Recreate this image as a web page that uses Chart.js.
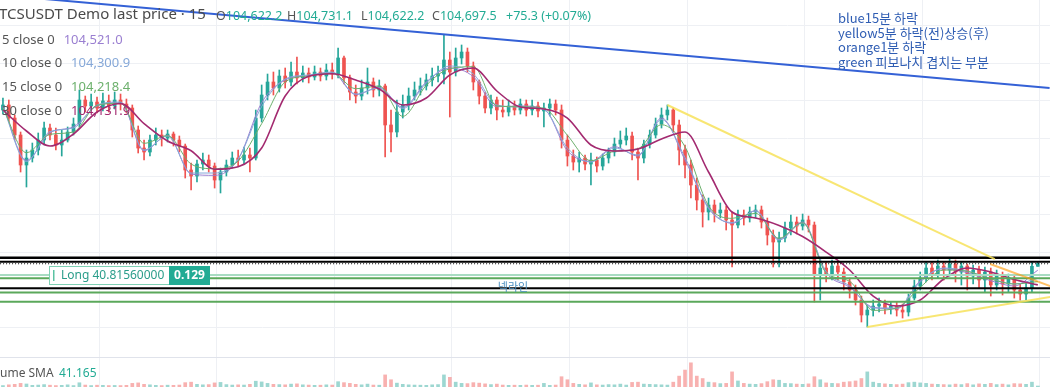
<!DOCTYPE html>
<html>
<head>
<meta charset="utf-8">
<script src="https://cdn.jsdelivr.net/npm/chart.js@4.4.1/dist/chart.umd.min.js"></script>
<style>
  html, body { margin: 0; padding: 0; background: #fff; overflow: hidden; }
  canvas { display: block; }
</style>
</head>
<body>
<canvas id="chart" width="1050" height="387"></canvas>
<script>
// ---- data (15m candles, resampled) ----
const opens = [
  108757,108890,108545,108096,107302,107487,107699,107963,108281,108096,
  107831,107963,108175,108387,109022,108863,108969,108810,108996,108863,
  109022,108916,108810,108228,107751,107646,107963,108096,108016,108122,
  107963,107804,107170,107011,107328,107434,107275,106905,107117,107302,
  107487,107434,107567,107487,108545,109154,109498,109339,109656,109498,
  109762,109604,109736,109630,109762,109656,109815,109709,110133,109604,
  109233,109127,109339,109498,109286,109392,108361,108175,108704,108890,
  109127,109286,109392,109551,109656,109709,110080,109762,110133,110291,
  109921,109498,109127,108810,109022,108757,108704,108863,108757,108916,
  108757,108863,108731,108810,108916,108757,107963,107540,107381,107487,
  107328,107434,107275,107487,107646,107857,107963,108069,107646,107487,
  107857,108096,108387,108625,108757,108361,107699,107302,106773,106376,
  106059,106244,106033,106112,105847,105715,105980,105900,106059,106112,
  105794,105451,105265,105371,105635,105794,105688,105847,105715,104392,
  104577,104392,104630,104471,104207,103995,103731,103334,103466,103572,
  103625,103519,103572,103466,103413,103783,104101,104312,104577,104418,
  104630,104524,104683,104471,104630,104365,104524,104260,104471,104128,
  104365,104154,104312,103995,103889,104048,104622.2
];
const highs = [
  109074,109022,108625,108175,107699,107884,108149,108440,108387,108281,
  108228,108308,108545,109286,109127,109180,109101,109207,109154,109233,
  109180,109048,108890,108334,107963,108096,108281,108228,108228,108175,
  108069,107857,107355,107434,107620,107567,107355,107222,107434,107646,
  107699,107778,107751,108757,109419,109709,109762,109815,109868,110027,
  110159,109921,109868,109921,109868,109974,110000,110397,110186,109683,
  109419,109551,109868,109604,109551,109445,108757,109022,109154,109339,
  109498,109604,109709,109868,109921,110741,110291,110397,110477,110397,
  110027,109551,109233,109154,109101,109022,109022,108996,109048,109022,
  109022,108969,108943,109048,109022,108890,108096,107699,107646,107567,
  107620,107514,107593,107751,108016,108202,108281,108175,107751,107963,
  108228,108545,108810,108890,108810,108493,107831,107434,106958,106509,
  106429,106376,106297,106217,106059,106112,106112,106191,106244,106217,
  105900,105583,105530,105794,105980,105927,106006,105953,105794,104841,
  104736,104789,104736,104577,104312,104128,103836,103599,103731,103783,
  103731,103678,103678,103625,103889,104260,104471,104736,104736,104789,
  104736,104815,104789,104736,104683,104657,104630,104604,104577,104524,
  104471,104418,104365,104154,104181,104736,104731.1
];
const lows = [
  108651,108440,107963,107117,106720,107381,107567,107831,107963,107699,
  107540,107910,108096,108308,108704,108757,108678,108731,108704,108784,
  108757,108678,108043,107620,107434,107540,107831,107804,107910,107804,
  107646,106958,106641,106852,107170,107117,106693,106562,107011,107222,
  107275,107328,107117,107434,108440,109022,109154,109233,109339,109392,
  109445,109498,109472,109551,109525,109551,109577,109604,109445,109022,
  108943,109022,109180,109101,109127,107514,107646,108043,108545,108757,
  109022,109154,109286,109392,109498,109445,108572,109656,109974,109762,
  109286,108916,108678,108651,108493,108572,108598,108625,108651,108598,
  108625,108572,108308,108598,108625,107751,107275,107170,107117,107170,
  106773,107117,107170,107355,107540,107751,107831,107434,106905,107355,
  107751,108016,108281,108493,108175,107302,106958,106429,106112,105662,
  105847,105794,105900,105583,104604,105635,105715,105794,105900,105635,
  105186,104604,104604,105265,105451,105477,105583,105530,103678,103731,
  104207,104260,104260,103995,103783,103599,103149,103017,103307,103413,
  103360,103360,103307,103254,103307,103731,103995,104207,104260,104312,
  104260,104365,104207,104128,103995,104154,104048,103942,103836,103995,
  103863,103942,103783,103731,103731,103942,104622.2
];
const closes = [
  108890,108545,108096,107302,107487,107699,107963,108281,108096,107831,
  107963,108175,108387,109022,108863,108969,108810,108996,108863,109022,
  108916,108810,108228,107751,107646,107963,108096,108016,108122,107963,
  107804,107170,107011,107328,107434,107275,106905,107117,107302,107487,
  107434,107567,107487,108545,109154,109498,109339,109656,109498,109762,
  109604,109736,109630,109762,109656,109815,109709,110133,109604,109233,
  109127,109339,109498,109286,109392,108361,108175,108704,108890,109127,
  109286,109392,109551,109656,109709,110080,109762,110133,110291,109921,
  109498,109127,108810,109022,108757,108704,108863,108757,108916,108757,
  108863,108731,108810,108916,108757,107963,107540,107381,107487,107328,
  107434,107275,107487,107646,107857,107963,108069,107646,107487,107857,
  108096,108387,108625,108757,108361,107699,107302,106773,106376,106059,
  106244,106033,106112,105847,105715,105980,105900,106059,106112,105794,
  105451,105265,105371,105635,105794,105688,105847,105715,104392,104577,
  104392,104630,104471,104207,103995,103731,103334,103466,103572,103625,
  103519,103572,103466,103413,103783,104101,104312,104577,104418,104630,
  104524,104683,104471,104630,104365,104524,104260,104471,104128,104365,
  104154,104312,103995,103889,104048,104622.2,104697.5
];
const volumes = [
  12,18,22,30,25,14,16,20,15,12, 14,18,12,35,16,12,15,14,12,13,
  12,14,30,34,22,18,14,12,15,14, 16,36,40,22,18,20,34,38,20,16,
  18,16,22,48,42,30,22,20,18,24, 26,18,16,14,15,18,16,44,36,30,
  22,18,24,16,15,100,60,32,22,18, 16,15,14,18,20,100,80,40,30,28,
  36,32,26,20,24,16,14,15,14,16, 14,15,30,14,16,85,60,30,22,18,
  34,18,16,20,18,24,16,38,40,24, 22,20,18,16,40,90,140,200,90,70,
  40,36,28,30,125,50,30,24,22,28, 44,60,56,30,28,24,22,26,85,60,
  34,30,28,40,44,50,70,125,40,30, 26,22,20,24,36,40,34,30,24,22,
  20,18,24,20,28,18,26,22,30,20, 24,18,28,26,22,40,8
];

// moving averages, sampled every 4th candle
const maIndex = [0,4,8,12,16,20,24,28,32,36,40,44,48,52,56,60,64,68,72,76,80,84,88,
  92,96,100,104,108,112,116,120,124,128,132,136,140,144,148,152,156,160,164,168,172,176];
const ma5 = [108863,107426,108156,108315,108863,108950,107680,108088,107064,107029,107453,108950,
  109551,109664,109744,109162,109357,108828,109498,109868,109638,108844,108863,108783,107680,
  107400,107786,107540,108545,107434,106183,105760,106093,105336,105794,104453,104067,103537,
  103500,104241,104558,104453,104241,104101,104521.0];
const ma10 = [108836,107394,108188,108281,108889,108969,107699,108069,107090,107090,107461,108850,
  109577,109683,109762,109180,109339,108797,109471,109921,109709,108889,108836,108770,107752,
  107381,107752,107567,108506,107500,106151,105781,106085,105318,105768,104485,104101,103519,
  103519,104207,104577,104498,104299,104154,104300.9];
const ma15 = [108810,107627,108114,108175,108881,108934,107876,108077,107328,107204,107408,108395,
  109498,109656,109728,109320,109392,108590,109410,109850,109902,108863,108844,108802,108088,
  107416,107664,107733,108368,107786,106225,105892,106024,105363,105775,104453,104225,103458,
  103519,104067,104524,104490,104286,104154,104218.4];
const ma30 = [108757,108202,107804,108122,108704,108929,108395,107937,107680,107188,107255,107751,
  109127,109648,109717,109551,109313,108890,109074,109683,109868,109260,108837,108784,108545,
  107831,107672,107725,107990,108175,107117,106059,105900,105702,105411,105000,104524,103836,
  103572,103731,104286,104577,104471,104273,104131.9];
const maLengths = [5, 10, 15, 30];

// drawings: [candle index, price]
const blueTrend = [[-1, 111805], [178, 109340]];
const yellowTop = [[113, 108890], [168.7, 104815]];
const yellowBottom = [[147, 103017], [178.1, 103810]];
const orangeTrend = [[167.9, 104683], [178.1, 104101]];
const levelPrices = [104849, 104743, 104690, 104392, 104304, 104043, 103929, 103686];
const priceTicks = [103000, 104000, 105000, 106000, 107000, 108000, 109000, 110000, 111000];

// legend / labels
const symbolTitle = 'TCSUSDT Demo last price · 15';
const lastOHLC = [104622.2, 104731.1, 104622.2, 104697.5];
const lastChange = '+75.3 (+0.07%)';
const volumeSma = '41.165';
const positionPrice = 104392;
const positionText = 'Long 40.81560000';
const positionPnl = '0.129';
const necklinePrice = 104043;
const necklineText = '넥라인';
const notes = ['blue15분 하락', 'yellow5분 하락(전)상승(후)', 'orange1분 하락', 'green 피보나치 겹치는 부분'];

// ---- styles ----
const UP = '#26a69a', DOWN = '#ef5350';
const maColors = ['#9a7fd1', '#86a8d8', '#6cb06c', '#a32a70'];
const levelStyles = [
  { color: '#000', width: 2.5 },
  { color: '#000', width: 1.8 },
  { color: '#000', width: 1.2, dash: [1, 2] },
  { color: '#a8dcc2', width: 2 },
  { color: '#5ba85b', width: 2 },
  { color: '#000', width: 2 },
  { color: '#5ba85b', width: 2 },
  { color: '#5ba85b', width: 2 }
];
const GRID = '#eef0f4';
const SLOT = 5.88;             // px per candle
const X_MIN = -0.5, X_MAX = 1050 / SLOT - 0.5;
const gridCols = [0, 1, 2, 3, 4, 5, 6, 7, 8].map(k => 16.34 + 20 * k);

const isUp = i => closes[i] >= opens[i];
const idx = closes.map((_, i) => i);
const pts = arr => arr.map(([x, y]) => ({ x, y }));
const fmt = v => v.toLocaleString('en-US', { minimumFractionDigits: 1, maximumFractionDigits: 1 });

const datasets = [];
datasets.push({
  type: 'bar', label: 'volume', yAxisID: 'yv', order: 20, grouped: false, barThickness: 3,
  data: idx.map(i => ({ x: i, y: volumes[i] })),
  backgroundColor: c => isUp(c.dataIndex) ? 'rgba(38,166,154,0.45)' : 'rgba(239,83,80,0.45)'
});
datasets.push({
  type: 'bar', label: 'wick', order: 12, grouped: false, barThickness: 1,
  data: idx.map(i => ({ x: i, y: [lows[i], highs[i]] })),
  backgroundColor: c => isUp(c.dataIndex) ? UP : DOWN
});
datasets.push({
  type: 'bar', label: 'body', order: 11, grouped: false, barThickness: 3, minBarLength: 1,
  data: idx.map(i => ({ x: i, y: [opens[i], closes[i]] })),
  backgroundColor: c => isUp(c.dataIndex) ? UP : DOWN
});
[ma5, ma10, ma15, ma30].forEach((ma, k) => {
  datasets.push({
    type: 'line', label: 'MA' + maLengths[k], order: 10 - k,
    data: maIndex.map((x, j) => ({ x, y: ma[j] })),
    borderColor: maColors[k], borderWidth: k === 3 ? 1.6 : 1,
    pointRadius: 0, cubicInterpolationMode: 'monotone'
  });
});
levelPrices.forEach((p, k) => {
  const s = levelStyles[k];
  datasets.push({
    type: 'line', label: 'level' + k, order: 3,
    data: [{ x: X_MIN - 1, y: p }, { x: X_MAX + 1, y: p }],
    borderColor: s.color, borderWidth: s.width, borderDash: s.dash || [],
    pointRadius: 0
  });
});
[[blueTrend, '#3461d6', 2], [yellowTop, 'rgba(247,226,90,0.85)', 2],
 [yellowBottom, 'rgba(247,226,90,0.85)', 2], [orangeTrend, 'rgba(255,152,0,0.6)', 2]]
  .forEach(([line, color, w], k) => {
    datasets.push({
      type: 'line', label: 'trend' + k, order: 1,
      data: pts(line), borderColor: color, borderWidth: w, pointRadius: 0
    });
  });

const overlay = {
  id: 'overlay',
  afterDatasetsDraw(chart) {
    const ctx = chart.ctx, ys = chart.scales.y;
    ctx.save();
    // pane separator
    ctx.fillStyle = '#e0e3eb';
    ctx.fillRect(0, 357, chart.width, 1);

    // neckline label
    ctx.font = '11px "Noto Sans CJK KR", sans-serif';
    ctx.textAlign = 'center';
    ctx.textBaseline = 'middle';
    ctx.fillStyle = '#4b8fc0';
    ctx.fillText(necklineText, 513, ys.getPixelForValue(necklinePrice) - 1);

    // position label
    const py = Math.round(ys.getPixelForValue(positionPrice));
    ctx.fillStyle = '#fff';
    ctx.fillRect(49, py - 9, 121, 19);
    ctx.strokeStyle = '#7fd0b4';
    ctx.lineWidth = 1;
    ctx.strokeRect(49.5, py - 8.5, 160, 18);
    ctx.fillStyle = '#22ab94';
    ctx.fillRect(169, py - 9, 41, 19);
    ctx.fillStyle = '#5cc3a3';
    ctx.fillRect(53, py - 5, 1.5, 11);
    ctx.textAlign = 'left';
    ctx.font = '12px "Noto Sans", sans-serif';
    ctx.fillStyle = '#2a9d8a';
    ctx.fillText(positionText, 61, py + 0.5);
    ctx.fillStyle = '#fff';
    ctx.font = 'bold 12px "Noto Sans", sans-serif';
    ctx.textAlign = 'center';
    ctx.fillText(positionPnl, 189.5, py + 0.5);
    ctx.restore();
  },
  afterDraw(chart) {
    const ctx = chart.ctx;
    ctx.save();
    ctx.textAlign = 'left';
    ctx.textBaseline = 'middle';

    ctx.font = '15px "Noto Sans", sans-serif';
    ctx.fillStyle = '#4a4a4a';
    ctx.fillText(symbolTitle, -1, 15);

    ctx.font = '12.5px "Noto Sans", sans-serif';
    const ohlcX = [216, 287, 361, 432];
    ['O', 'H', 'L', 'C'].forEach((lab, k) => {
      ctx.fillStyle = '#555';
      ctx.fillText(lab, ohlcX[k], 16);
      const w = ctx.measureText(lab).width;
      ctx.fillStyle = '#22ab94';
      ctx.fillText(fmt(lastOHLC[k]), ohlcX[k] + w, 16);
    });
    ctx.fillText(lastChange, 506, 16);

    // MA legend rows
    ctx.font = '13px "Noto Sans", sans-serif';
    maLengths.forEach((len, k) => {
      const yy = 40 + k * 23.7;
      const lab = len + ' close 0';
      ctx.fillStyle = '#555';
      ctx.fillText(lab, 2, yy);
      const last = [ma5, ma10, ma15, ma30][k];
      ctx.fillStyle = maColors[k];
      ctx.fillText(fmt(last[last.length - 1]), 2 + ctx.measureText(lab).width + 9, yy);
    });

    // volume legend (cut at left edge)
    ctx.font = '12px "Noto Sans", sans-serif';
    const cut = ctx.measureText('Vol').width;
    ctx.fillStyle = '#555';
    ctx.fillText('Volume SMA', -cut, 374);
    ctx.fillStyle = '#22ab94';
    ctx.fillText(volumeSma, 59, 374);

    // notes
    ctx.font = '13px "Noto Sans CJK KR", sans-serif';
    ctx.fillStyle = '#2f5db3';
    notes.forEach((t, k) => ctx.fillText(t, 838, 18 + k * 14.6));
    ctx.restore();
  }
};

new Chart(document.getElementById('chart'), {
  type: 'bar',
  data: { datasets },
  options: {
    responsive: false,
    animation: false,
    events: [],
    layout: { padding: 0 },
    plugins: { legend: { display: false }, tooltip: { enabled: false } },
    scales: {
      x: {
        type: 'linear', min: X_MIN, max: X_MAX, offset: false,
        ticks: { display: false },
        grid: { color: GRID, drawTicks: false, offset: false },
        border: { display: false },
        afterBuildTicks: s => { s.ticks = gridCols.map(v => ({ value: v })); }
      },
      y: {
        type: 'linear', min: 101430, max: 111667,
        ticks: { display: false },
        grid: { color: GRID, drawTicks: false },
        border: { display: false },
        afterBuildTicks: s => { s.ticks = priceTicks.map(v => ({ value: v })); }
      },
      yv: { type: 'linear', min: 0, max: 3200, display: false }
    }
  },
  plugins: [overlay]
});
</script>
</body>
</html>
